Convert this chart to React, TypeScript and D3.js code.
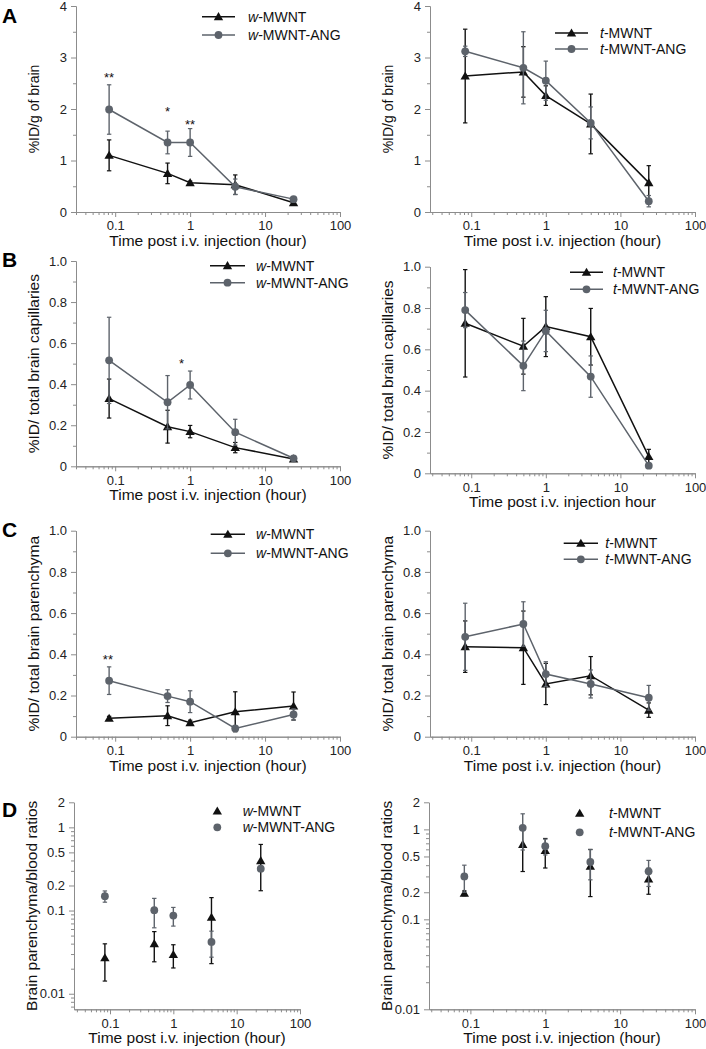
import React, { useEffect, useRef } from "react";
import * as d3 from "d3";

// sampling times (hour)
const times = [0.083, 0.5, 1, 4, 24];

const xTicks = [0.1, 1, 10, 100];
const yTicksA = [0, 1, 2, 3, 4];
const yTicksBC = [0, 0.2, 0.4, 0.6, 0.8, 1.0];
const yTicksD = [0.01, 0.1, 0.2, 0.5, 1, 2];

// A: %ID/g of brain
const aW = [1.1, 0.75, 0.57, 0.53, 0.18];
const aWsd = [0.3, 0.2, 0.03, 0.19, 0.02];
const aWAng = [1.99, 1.35, 1.35, 0.49, 0.25];
const aWAngSd = [0.48, 0.22, 0.27, 0.15, 0.02];
const aT = [2.64, 2.72, 2.26, 1.71, 0.57];
const aTsd = [0.91, 0.49, 0.19, 0.58, 0.33];
const aTAng = [3.12, 2.8, 2.55, 1.73, 0.21];
const aTAngSd = [0.1, 0.7, 0.38, 0.31, 0.11];

// B: %ID / total brain capillaries
const bW = [0.33, 0.193, 0.169, 0.091, 0.036];
const bWsd = [0.095, 0.08, 0.03, 0.025, 0.005];
const bWAng = [0.516, 0.312, 0.396, 0.166, 0.039];
const bWAngSd = [0.21, 0.13, 0.068, 0.063, 0.005];
const bT = [0.726, 0.615, 0.71, 0.661, 0.081];
const bTsd = [0.26, 0.135, 0.145, 0.137, 0.035];
const bTAng = [0.79, 0.52, 0.689, 0.468, 0.037];
const bTAngSd = [0.085, 0.12, 0.1, 0.1, 0.008];

// C: %ID / total brain parenchyma
const cW = [0.089, 0.102, 0.068, 0.121, 0.149];
const cWsd = [0.01, 0.048, 0.012, 0.097, 0.068];
const cWAng = [0.272, 0.197, 0.17, 0.04, 0.108];
const cWAngSd = [0.067, 0.031, 0.053, 0.01, 0.027];
const cT = [0.437, 0.432, 0.256, 0.296, 0.129];
const cTsd = [0.125, 0.178, 0.1, 0.093, 0.035];
const cTAng = [0.485, 0.547, 0.304, 0.256, 0.189];
const cTAngSd = [0.163, 0.108, 0.06, 0.068, 0.06];

// D: brain parenchyma / blood ratios
const dW = [0.027, 0.04, 0.0296, 0.083, 0.398];
const dWsd = [0.0128, 0.0158, 0.0092, 0.06, 0.225];
const dWAng = [0.149, 0.101, 0.087, 0.042, 0.319];
const dWAngSd = [0.023, 0.039, 0.022, 0.0145, 0.02];
const dT = [0.195, 0.68, 0.582, 0.389, 0.28];
const dTsd = [0.012, 0.34, 0.21, 0.21, 0.09];
const dTAng = [0.3, 1.04, 0.65, 0.435, 0.342];
const dTAngSd = [0.1, 0.45, 0.13, 0.16, 0.11];

// significance marks
const annoA = [
  { t: 0.083, y: 2.52, text: "**" },
  { t: 0.5, y: 1.86, text: "*" },
  { t: 1, y: 1.61, text: "**" },
];
const annoB = [{ t: 0.77, y: 0.479, text: "*" }];
const annoC = [{ t: 0.08, y: 0.353, text: "**" }];

const BLACK = "#111111";
const GREY = "#5d636b";
const AXIS = "#8c8c8c";
const FONT = "'Liberation Sans', Arial, Helvetica, sans-serif";

const xLab = "Time post i.v. injection (hour)";

function mk(prefix, mean, sd, ang) {
  return {
    prefix,
    name: ang ? "-MWNT-ANG" : "-MWNT",
    mean,
    sd,
    color: ang ? GREY : BLACK,
    marker: ang ? "circle" : "triangle",
  };
}

const panels = [
  {
    letter: "A", lx: 2, ly: 23,
    left: 76, right: 340, top: 6, bottom: 212, xDomain: [0.03, 100],
    yDomain: [0, 4], yTicks: yTicksA, yMinorStep: 0.5, logY: false,
    yLabel: "%ID/g of brain", yLabelSize: 14, xLabel: xLab,
    series: [mk("w", aW, aWsd, false), mk("w", aWAng, aWAngSd, true)],
    legend: { x1: 202, x2: 235, ys: [16.7, 35], tx: 248 }, lines: true, anno: annoA,
  },
  {
    left: 430, right: 695, top: 6, bottom: 212, xDomain: [0.028, 100],
    yDomain: [0, 4], yTicks: yTicksA, yMinorStep: 0.5, logY: false,
    yLabel: "%ID/g of brain", yLabelSize: 14, xLabel: xLab,
    series: [mk("t", aT, aTsd, false), mk("t", aTAng, aTAngSd, true)],
    legend: { x1: 555, x2: 588, ys: [33, 49], tx: 600 }, lines: true, anno: [],
  },
  {
    letter: "B", lx: 2, ly: 267,
    left: 76, right: 340, top: 261, bottom: 466.3, xDomain: [0.03, 100],
    yDomain: [0, 1], yTicks: yTicksBC, yMinorStep: 0.1, logY: false,
    yLabel: "%ID/ total brain capillaries", yLabelSize: 15.5, xLabel: xLab,
    series: [mk("w", bW, bWsd, false), mk("w", bWAng, bWAngSd, true)],
    legend: { x1: 210, x2: 245, ys: [265.7, 282.7], tx: 256 }, lines: true, anno: annoB,
  },
  {
    left: 430, right: 695, top: 266.7, bottom: 473.3, xDomain: [0.028, 100],
    yDomain: [0, 1], yTicks: yTicksBC, yMinorStep: 0.1, logY: false,
    yLabel: "%ID/ total brain capillaries", yLabelSize: 15.5,
    xLabel: "Time post i.v. injection hour",
    series: [mk("t", bT, bTsd, false), mk("t", bTAng, bTAngSd, true)],
    legend: { x1: 570, x2: 603, ys: [272.3, 289.3], tx: 613 }, lines: true, anno: [],
  },
  {
    letter: "C", lx: 2, ly: 537,
    left: 76, right: 340, top: 530.7, bottom: 736.7, xDomain: [0.03, 100],
    yDomain: [0, 1], yTicks: yTicksBC, yMinorStep: 0.1, logY: false,
    yLabel: "%ID/ total brain parenchyma", yLabelSize: 15.5, xLabel: xLab,
    series: [mk("w", cW, cWsd, false), mk("w", cWAng, cWAngSd, true)],
    legend: { x1: 210.7, x2: 245, ys: [534.3, 553.3], tx: 256 }, lines: true, anno: annoC,
  },
  {
    left: 430, right: 695, top: 530.7, bottom: 736.7, xDomain: [0.028, 100],
    yDomain: [0, 1], yTicks: yTicksBC, yMinorStep: 0.1, logY: false,
    yLabel: "%ID/ total brain parenchyma", yLabelSize: 15.5, xLabel: xLab,
    series: [mk("t", cT, cTsd, false), mk("t", cTAng, cTAngSd, true)],
    legend: { x1: 563.7, x2: 598, ys: [543.3, 559.3], tx: 605.3 }, lines: true, anno: [],
  },
  {
    letter: "D", lx: 2, ly: 817,
    left: 74, right: 300, top: 802.3, bottom: 1009.3, xDomain: [0.027, 100],
    yDomain: [0.0065, 2], yTicks: yTicksD, logY: true, yTop: 2,
    yLabel: "Brain parenchyma/blood ratios", yLabelSize: 15.5, xLabel: xLab,
    series: [mk("w", dW, dWsd, false), mk("w", dWAng, dWAngSd, true)],
    legend: { mx: 217.3, ys: [811, 827.3], tx: 242.7 }, lines: false, anno: [],
  },
  {
    left: 429, right: 695, top: 802.3, bottom: 1009.3, xDomain: [0.028, 100],
    yDomain: [0.01, 2], yTicks: yTicksD, logY: true, yTop: 2,
    yLabel: "Brain parenchyma/blood ratios", yLabelSize: 15.5, xLabel: xLab,
    series: [mk("t", dT, dTsd, false), mk("t", dTAng, dTAngSd, true)],
    legend: { mx: 579.7, ys: [813.3, 832.3], tx: 609 }, lines: false, anno: [],
  },
];

function logMinor(domain, majors) {
  const out = [];
  for (let e = -3; e <= 2; e++) {
    for (let m = 2; m <= 9; m++) {
      const v = m * Math.pow(10, e);
      if (v >= domain[0] * 0.999 && v <= domain[1] * 1.001 && !majors.includes(v)) out.push(v);
    }
  }
  return out;
}

function styleAxis(g) {
  g.select(".domain").attr("stroke", AXIS).attr("stroke-width", 1);
  g.selectAll(".tick line").attr("stroke", AXIS).attr("stroke-width", 1);
  g.selectAll(".tick text").attr("fill", "#222").style("font-family", FONT).style("font-size", "13px");
}

function drawMarker(g, kind, cx, cy, color) {
  if (kind === "circle") {
    g.append("circle").attr("cx", cx).attr("cy", cy).attr("r", 3.9).attr("fill", color);
  } else {
    g.append("path")
      .attr("d", d3.symbol(d3.symbolTriangle, 38)())
      .attr("transform", `translate(${cx},${cy + 0.8})`)
      .attr("fill", color);
  }
}

function drawPanel(svg, p) {
  const g = svg.append("g");
  const x = d3.scaleLog().domain(p.xDomain).range([p.left, p.right]);
  const y = p.logY
    ? d3.scaleLog().domain(p.yDomain).range([p.bottom, p.top])
    : d3.scaleLinear().domain(p.yDomain).range([p.bottom, p.top]);

  // x axis, major + minor
  const gx = g.append("g").attr("transform", `translate(0,${p.bottom})`);
  gx.call(d3.axisBottom(x).tickValues(xTicks).tickFormat(d => String(d)).tickSize(5).tickSizeOuter(0).tickPadding(4));
  styleAxis(gx);
  const gxm = g.append("g").attr("transform", `translate(0,${p.bottom})`);
  gxm.call(d3.axisBottom(x).tickValues(logMinor(p.xDomain, xTicks)).tickFormat(() => "").tickSize(3).tickSizeOuter(0));
  styleAxis(gxm);

  // y axis
  const fmt = p.logY
    ? d => String(d)
    : p.yDomain[1] > 1 ? d => String(d) : d => (d === 0 ? "0" : d3.format(".1f")(d));
  let minor;
  if (p.logY) {
    minor = logMinor(p.yDomain, p.yTicks).filter(v => ![0.2, 0.5].some(t => Math.abs(v - t) < 1e-9));
  } else {
    minor = d3.range(p.yDomain[0] + p.yMinorStep, p.yDomain[1], p.yMinorStep * 2);
  }
  const gy = g.append("g").attr("transform", `translate(${p.left},0)`);
  gy.call(d3.axisLeft(y).tickValues(p.yTicks).tickFormat(fmt).tickSize(5).tickSizeOuter(0).tickPadding(4));
  styleAxis(gy);
  const gym = g.append("g").attr("transform", `translate(${p.left},0)`);
  gym.call(d3.axisLeft(y).tickValues(minor).tickFormat(() => "").tickSize(3).tickSizeOuter(0));
  styleAxis(gym);

  // axis titles
  g.append("text")
    .attr("transform", `translate(${p.left - 37},${(p.top + p.bottom) / 2}) rotate(-90)`)
    .attr("text-anchor", "middle")
    .style("font-family", FONT)
    .style("font-size", p.yLabelSize + "px")
    .attr("fill", "#111")
    .text(p.yLabel);
  g.append("text")
    .attr("x", (p.left + p.right) / 2)
    .attr("y", p.bottom + 34)
    .attr("text-anchor", "middle")
    .style("font-family", FONT)
    .style("font-size", "15.5px")
    .attr("fill", "#111")
    .text(p.xLabel);

  if (p.letter) {
    svg.append("text")
      .attr("x", p.lx).attr("y", p.ly)
      .style("font-family", FONT).style("font-size", "21px").style("font-weight", "bold")
      .attr("fill", "#000")
      .text(p.letter);
  }

  const yMin = p.yDomain[0];
  p.series.forEach(s => {
    const pts = times.map((t, i) => ({ t, v: s.mean[i], sd: s.sd[i] }));
    // error bars
    pts.forEach(d => {
      const lo = p.logY ? Math.max(d.v - d.sd, yMin) : d.v - d.sd;
      const hi = d.v + d.sd;
      const cx = x(d.t);
      g.append("line").attr("x1", cx).attr("x2", cx).attr("y1", y(lo)).attr("y2", y(hi))
        .attr("stroke", s.color).attr("stroke-width", 1.4);
      [lo, hi].forEach(v => {
        g.append("line").attr("x1", cx - 2.2).attr("x2", cx + 2.2).attr("y1", y(v)).attr("y2", y(v))
          .attr("stroke", s.color).attr("stroke-width", 1.2);
      });
    });
    if (p.lines) {
      const line = d3.line().x(d => x(d.t)).y(d => y(d.v));
      g.append("path").attr("d", line(pts)).attr("fill", "none")
        .attr("stroke", s.color).attr("stroke-width", 1.5);
    }
    pts.forEach(d => drawMarker(g, s.marker, x(d.t), y(d.v), s.color));
  });

  // legend
  const L = p.legend;
  p.series.forEach((s, i) => {
    const ly = L.ys[i];
    let mx = L.mx;
    if (p.lines) {
      g.append("line").attr("x1", L.x1).attr("x2", L.x2).attr("y1", ly).attr("y2", ly)
        .attr("stroke", s.color).attr("stroke-width", 1.5);
      mx = (L.x1 + L.x2) / 2;
    }
    drawMarker(g, s.marker, mx, ly, s.color);
    const t = g.append("text").attr("x", L.tx).attr("y", ly + 5)
      .style("font-family", FONT).style("font-size", "14px").attr("fill", "#111");
    t.append("tspan").style("font-style", "italic").text(s.prefix);
    t.append("tspan").text(s.name);
  });

  // significance marks
  p.anno.forEach(a => {
    g.append("text").attr("x", x(a.t)).attr("y", y(a.y)).attr("text-anchor", "middle")
      .style("font-family", FONT).style("font-size", "13px").attr("fill", "#111").text(a.text);
  });
}

export default function App() {
  const ref = useRef(null);
  useEffect(() => {
    const svg = d3.select(ref.current);
    svg.selectAll("*").remove();
    svg.append("rect").attr("width", 706).attr("height", 1049).attr("fill", "#fff");
    panels.forEach(p => drawPanel(svg, p));
  }, []);
  return (
    <svg ref={ref} width={706} height={1049} style={{ position: "absolute", left: 0, top: 0 }} />
  );
}
